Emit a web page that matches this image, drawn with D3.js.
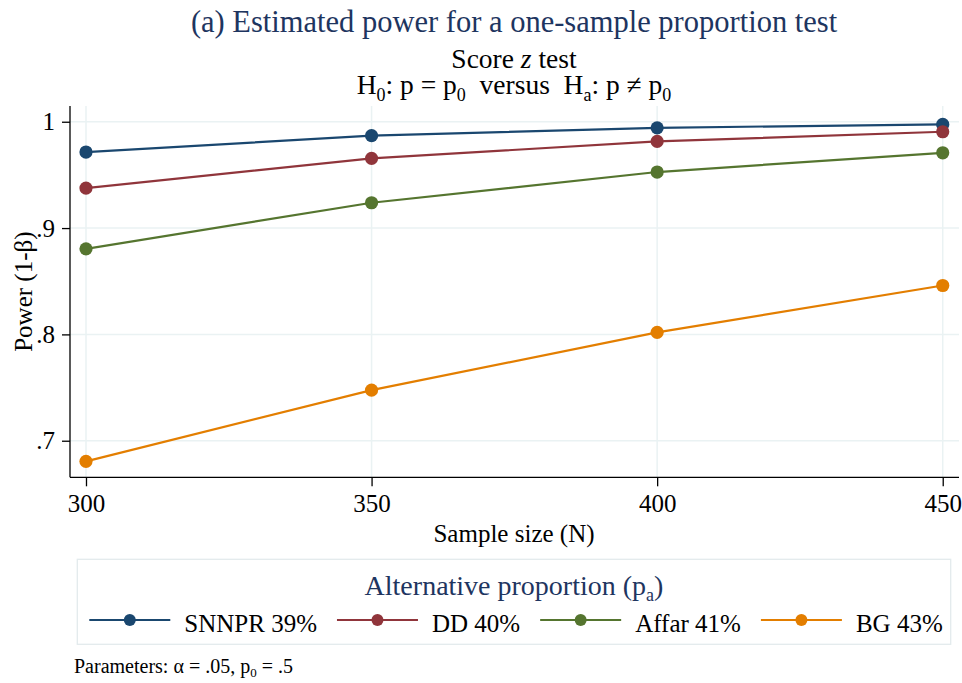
<!DOCTYPE html>
<meta charset="utf-8">
<head>
<script src="https://d3js.org/d3.v7.min.js"></script>
<style>
  body { margin: 0; background: #fff; }
  svg text { font-family: "Liberation Serif", "Times New Roman", serif; }
</style>
</head>
<body>
<svg id="chart" width="962" height="683"></svg>

<script>
// sample sizes and estimated power
var sampleSizes = [300, 350, 400, 450];
var seriesNames = ["SNNPR 39%", "DD 40%", "Affar 41%", "BG 43%"];
var powerSNNPR = [0.9715, 0.9869, 0.9943, 0.9975];
var powerDD    = [0.9376, 0.9656, 0.9815, 0.9906];
var powerAffar = [0.8805, 0.9238, 0.9527, 0.9708];
var powerBG    = [0.6806, 0.7476, 0.8019, 0.8460];
var yTicks = [0.7, 0.8, 0.9, 1];
var yTickLabels = [".7", ".8", ".9", "1"];
var xTicks = [300, 350, 400, 450];

var colors = ["#1a476f", "#90353b", "#55752f", "#e37e00"];
var series = [powerSNNPR, powerDD, powerAffar, powerBG];

var svg = d3.select("#chart");
var gridColor = "#eaf2f3";
var titleColor = "#1e3560";

// plot region
var plotL = 70, plotR = 959, plotT = 106, plotB = 477.3;

var x = d3.scaleLinear().domain([297.2, 452.85]).range([plotL, plotR]);
var y = d3.scaleLinear().domain([0.6656, 1.0148]).range([plotB, plotT]);

// grid
svg.append("g")
  .selectAll("line")
  .data(yTicks)
  .enter().append("line")
    .attr("x1", plotL).attr("x2", plotR)
    .attr("y1", function(d) { return y(d); })
    .attr("y2", function(d) { return y(d); })
    .attr("stroke", gridColor).attr("stroke-width", 1.5);

svg.append("g")
  .selectAll("line")
  .data(xTicks)
  .enter().append("line")
    .attr("y1", plotT).attr("y2", plotB)
    .attr("x1", function(d) { return x(d); })
    .attr("x2", function(d) { return x(d); })
    .attr("stroke", gridColor).attr("stroke-width", 1.5);

// axes
var yAxis = d3.axisLeft(y)
  .tickValues(yTicks)
  .tickFormat(function(d, i) { return yTickLabels[i]; })
  .tickSize(8).tickPadding(7);
var gy = svg.append("g").attr("transform", "translate(" + plotL + ",0)").call(yAxis);

var xAxis = d3.axisBottom(x)
  .tickValues(xTicks)
  .tickFormat(d3.format("d"))
  .tickSize(9).tickPadding(8);
var gx = svg.append("g").attr("transform", "translate(0," + plotB + ")").call(xAxis);

[gy, gx].forEach(function(g) {
  g.select(".domain").attr("stroke", "#000").attr("stroke-width", 1.3)
  g.selectAll(".tick line").attr("stroke", "#000").attr("stroke-width", 1.3)
  g.selectAll("text")
    .attr("fill", "#000")
    .style("font-family", "Liberation Serif")
    .style("font-size", "25px");
});
gx.select(".domain").attr("d", "M" + plotL + ",0H" + plotR);
gy.select(".domain").attr("d", "M0," + plotT + "V" + plotB);

// lines and markers
var line = d3.line()
  .x(function(d, i) { return x(sampleSizes[i]); })
  .y(function(d) { return y(d); });

series.forEach(function(vals, k) {
  svg.append("path")
    .datum(vals)
    .attr("d", line)
    .attr("fill", "none")
    .attr("stroke", colors[k])
    .attr("stroke-width", 2.2);
});
series.forEach(function(vals, k) {
  svg.append("g")
    .selectAll("circle")
    .data(vals)
    .enter().append("circle")
      .attr("cx", function(d, i) { return x(sampleSizes[i]); })
      .attr("cy", function(d) { return y(d); })
      .attr("r", 6.6)
      .attr("fill", colors[k]);
});

// titles
svg.append("text")
  .attr("x", 514).attr("y", 31.7)
  .attr("text-anchor", "middle")
  .attr("fill", titleColor)
  .style("font-size", "30.5px")
  .text("(a) Estimated power for a one-sample proportion test");

var sub = svg.append("text")
  .attr("x", 514).attr("y", 67.7)
  .attr("text-anchor", "middle")
  .style("font-size", "27.5px");
sub.append("tspan").text("Score ");
sub.append("tspan").style("font-style", "italic").text("z");
sub.append("tspan").text(" test");

// text with subscripts: pieces alternate normal / subscript
function withSubs(t, parts, subSize, shift) {
  parts.forEach(function(p, i) {
    var ts = t.append("tspan").text(p);
    if (i % 2 === 1) ts.attr("dy", shift).style("font-size", subSize);
    else if (i > 0) ts.attr("dy", -shift);
  });
}

var hyp = svg.append("text")
  .attr("x", 514).attr("y", 94.3)
  .attr("text-anchor", "middle")
  .style("font-size", "27.5px")
  .style("white-space", "pre");
withSubs(hyp, ["H", "0", ": p = p", "0", "  versus  H", "a", ": p \u2260 p", "0", ""], "18px", 7);

// axis titles
svg.append("text")
  .attr("x", 514).attr("y", 541.7)
  .attr("text-anchor", "middle")
  .style("font-size", "25px")
  .text("Sample size (N)");

svg.append("text")
  .attr("transform", "translate(31.7," + ((plotT + plotB) / 2) + ") rotate(-90)")
  .attr("text-anchor", "middle")
  .style("font-size", "25px")
  .text("Power (1-\u03b2)");

// legend
var lgBox = { x: 77.3, y: 559.3, w: 873.4, h: 85 };
svg.append("rect")
  .attr("x", lgBox.x).attr("y", lgBox.y)
  .attr("width", lgBox.w).attr("height", lgBox.h)
  .attr("fill", "#fff")
  .attr("stroke", "#e3ebed").attr("stroke-width", 1.3);

var lgTitle = svg.append("text")
  .attr("x", 514).attr("y", 595)
  .attr("text-anchor", "middle")
  .attr("fill", titleColor)
  .style("font-size", "28px");
withSubs(lgTitle, ["Alternative proportion (p", "a", ")"], "18px", 6);

var lgY = 620, cursor = 89.3;
seriesNames.forEach(function(name, k) {
  var g = svg.append("g");
  g.append("line")
    .attr("x1", cursor).attr("x2", cursor + 81)
    .attr("y1", lgY).attr("y2", lgY)
    .attr("stroke", colors[k]).attr("stroke-width", 2.2);
  g.append("circle")
    .attr("cx", cursor + 40.5).attr("cy", lgY).attr("r", 6)
    .attr("fill", colors[k]);
  var t = g.append("text")
    .attr("x", cursor + 95).attr("y", 631.7)
    .style("font-size", "25px")
    .text(name);
  cursor = cursor + 95 + t.node().getComputedTextLength() + 20;
});

// note
var note = svg.append("text")
  .attr("x", 74).attr("y", 673.3)
  .style("font-size", "20px");
withSubs(note, ["Parameters: \u03b1 = .05, p", "0", " = .5"], "13px", 4);
</script>
</body>
